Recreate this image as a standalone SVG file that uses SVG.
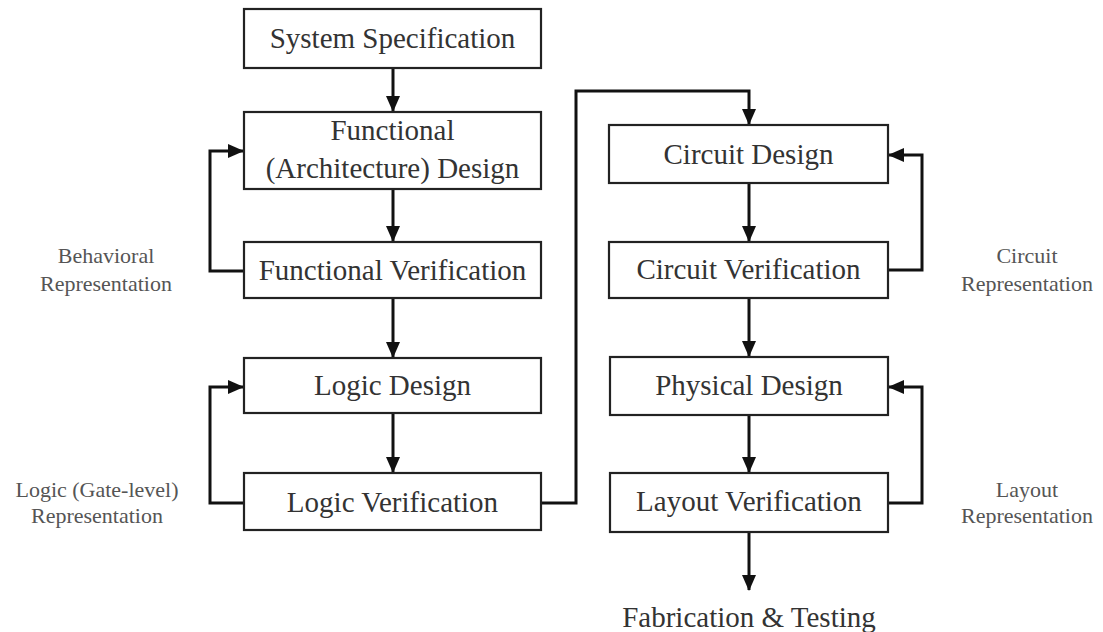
<svg xmlns="http://www.w3.org/2000/svg" width="1103" height="632" viewBox="0 0 1103 632">
<style>
.box{fill:#fff;stroke:#222;stroke-width:2.2}
.t{font-family:"Liberation Serif","Times New Roman",serif;font-size:29px;fill:#333;text-anchor:middle}
.s{font-family:"Liberation Serif","Times New Roman",serif;font-size:22px;fill:#555;text-anchor:middle}
.c{fill:none;stroke:#111;stroke-width:3}
</style>
<defs>
<marker id="ah" markerUnits="userSpaceOnUse" markerWidth="16" markerHeight="14" refX="15" refY="7" orient="auto">
<path d="M0,0 L16,7 L0,14 Z" fill="#111"/>
</marker>
</defs>
<rect width="1103" height="632" fill="#fff"/>
<g id="connectors">
<line class="c" x1="393" y1="68" x2="393" y2="111" marker-end="url(#ah)"/>
<line class="c" x1="393" y1="189" x2="393" y2="241" marker-end="url(#ah)"/>
<line class="c" x1="393" y1="298" x2="393" y2="357" marker-end="url(#ah)"/>
<line class="c" x1="393" y1="413" x2="393" y2="472" marker-end="url(#ah)"/>
<polyline class="c" points="244,271 210,271 210,151 243,151" marker-end="url(#ah)"/>
<polyline class="c" points="244,503 210,503 210,387 243,387" marker-end="url(#ah)"/>
<polyline class="c" points="541,503 576,503 576,91 749,91 749,124" marker-end="url(#ah)"/>
<line class="c" x1="749" y1="183" x2="749" y2="241" marker-end="url(#ah)"/>
<line class="c" x1="749" y1="298" x2="749" y2="356" marker-end="url(#ah)"/>
<line class="c" x1="749" y1="415" x2="749" y2="472" marker-end="url(#ah)"/>
<line class="c" x1="749" y1="532" x2="749" y2="590" marker-end="url(#ah)"/>
<polyline class="c" points="888,270 922,270 922,155 889,155" marker-end="url(#ah)"/>
<polyline class="c" points="888,503 922,503 922,387 889,387" marker-end="url(#ah)"/>
</g>
<g id="system-spec"><rect class="box" x="244" y="9" width="297" height="59"/><text class="t" x="392.5" y="48">System Specification</text></g>
<g id="functional-design"><rect class="box" x="244" y="112" width="297" height="77"/><text class="t" x="392.5" y="140">Functional</text><text class="t" x="392.5" y="178">(Architecture) Design</text></g>
<g id="functional-verification"><rect class="box" x="244" y="242" width="297" height="56"/><text class="t" x="392.5" y="280">Functional Verification</text></g>
<g id="logic-design"><rect class="box" x="244" y="358" width="297" height="55"/><text class="t" x="392.5" y="395">Logic Design</text></g>
<g id="logic-verification"><rect class="box" x="244" y="473" width="297" height="57"/><text class="t" x="392.5" y="512">Logic Verification</text></g>
<g id="circuit-design"><rect class="box" x="609" y="125" width="279" height="58"/><text class="t" x="748.5" y="164">Circuit Design</text></g>
<g id="circuit-verification"><rect class="box" x="609" y="242" width="279" height="56"/><text class="t" x="748.5" y="279">Circuit Verification</text></g>
<g id="physical-design"><rect class="box" x="610" y="357" width="278" height="58"/><text class="t" x="749" y="395">Physical Design</text></g>
<g id="layout-verification"><rect class="box" x="610" y="473" width="278" height="59"/><text class="t" x="749" y="511">Layout Verification</text></g>
<g id="fabrication"><text class="t" x="749" y="627">Fabrication &amp; Testing</text></g>
<g id="label-behavioral"><text class="s" x="106" y="263">Behavioral</text><text class="s" x="106" y="291">Representation</text></g>
<g id="label-logic"><text class="s" x="97" y="497">Logic (Gate-level)</text><text class="s" x="97" y="523">Representation</text></g>
<g id="label-circuit"><text class="s" x="1027" y="263">Circuit</text><text class="s" x="1027" y="291">Representation</text></g>
<g id="label-layout"><text class="s" x="1027" y="497">Layout</text><text class="s" x="1027" y="523">Representation</text></g>
</svg>
